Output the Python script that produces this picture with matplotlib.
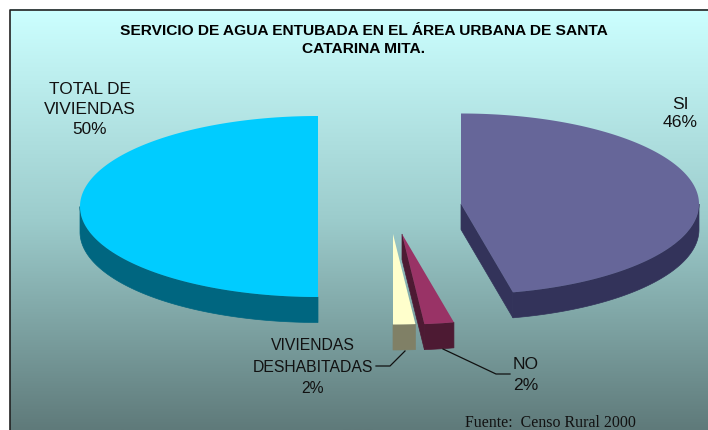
import numpy as np
import matplotlib
matplotlib.use("Agg")
import matplotlib.pyplot as plt
from matplotlib.patches import Polygon
from matplotlib.colors import LinearSegmentedColormap

categories = ["SI", "NO", "VIVIENDAS\nDESHABITADAS", "TOTAL DE\nVIVIENDAS"]
values = [46.5, 2.0, 1.5, 50.0]
shown = ["46%", "2%", "2%", "50%"]
top_colors = ["#666699", "#993366", "#FFFFCC", "#00CCFF"]
side_colors = ["#33335A", "#4D1A33", "#808066", "#006680"]
title = "SERVICIO DE AGUA ENTUBADA EN EL ÁREA URBANA DE SANTA\nCATARINA MITA."
source = "Fuente:  Censo Rural 2000"

W, H = 708, 430
fig = plt.figure(figsize=(W / 100, H / 100), dpi=100, facecolor="white")
ax = fig.add_axes([0, 0, 1, 1])
plt.rcParams["font.family"] = ["Liberation Sans", "DejaVu Sans"]

grad = LinearSegmentedColormap.from_list("bg", ["#CCFFFF", "#9CCCCC", "#5F7A7A"])
ax.imshow(np.linspace(0, 1, 256)[:, None], cmap=grad, aspect="auto",
          extent=(9.5, W, H, 9.5), zorder=0)
ax.set_xlim(0, W)
ax.set_ylim(H, 0)
ax.axis("off")
ax.plot([9.5, 9.5, W], [H, 9.5, 9.5], color="#222222", lw=1.2, zorder=1)

RX, RY, DEPTH = 238, 90.5, 25.5
centers = [(461, 204), (402, 234), (393, 234), (318, 206.5)]


def arc(c, a0, a1, n=80):
    t = np.radians(np.linspace(a0, a1, n))
    return np.c_[c[0] + RX * np.sin(t), c[1] - RY * np.cos(t)]


angles = np.cumsum([0] + values) * 3.6
for i in range(len(values)):
    c, a0, a1 = centers[i], angles[i], angles[i + 1]
    z = 3 + i
    lo, hi = max(a0, 90), min(a1, 270)
    if hi > lo:
        rim = arc(c, lo, hi)
        wall = np.vstack([rim, (rim + [0, DEPTH])[::-1]])
        ax.add_patch(Polygon(wall, closed=True, fc=side_colors[i], ec=side_colors[i], lw=0.5, zorder=z))
    if a1 < 180:
        tip = arc(c, a1, a1, 1)[0]
        cut = np.array([c, tip, tip + [0, DEPTH], (c[0], c[1] + DEPTH)])
        ax.add_patch(Polygon(cut, closed=True, fc=side_colors[i], ec=side_colors[i], lw=0.5, zorder=z))
    rim = arc(c, a0, a1, 200)
    ax.add_patch(Polygon(np.vstack([[c], rim]), closed=True, fc=top_colors[i], ec="none", zorder=z + 0.5))

txt = dict(color="#111111", ha="center", va="center", zorder=10)
ax.text(364, 40, title, fontsize=11.15, fontweight="bold", color="black", ha="center", va="center",
        linespacing=1.45, zorder=10)
ax.text(680, 113.5, f"{categories[0]}\n{shown[0]}", fontsize=12.6, linespacing=1.3, **txt)
ax.text(525.5, 375, f"{categories[1]}\n{shown[1]}", fontsize=12.6, linespacing=1.42, **txt)
ax.text(313, 367, f"{categories[2]}\n{shown[2]}", fontsize=11.3, linespacing=1.52, **txt)
ax.text(90, 109.5, f"{categories[3]}\n{shown[3]}", fontsize=12.4, linespacing=1.42, **txt)
ax.text(550.5, 423, source, fontsize=11.4, family="Liberation Serif", color="#111111",
        ha="center", va="center", zorder=10)

ax.plot([376, 390, 405], [366, 366, 351], color="#111111", lw=0.9, zorder=9)
ax.plot([443, 496, 510], [349, 374, 374], color="#111111", lw=0.9, zorder=9)

fig.savefig("out.png", dpi=100, facecolor="white")
